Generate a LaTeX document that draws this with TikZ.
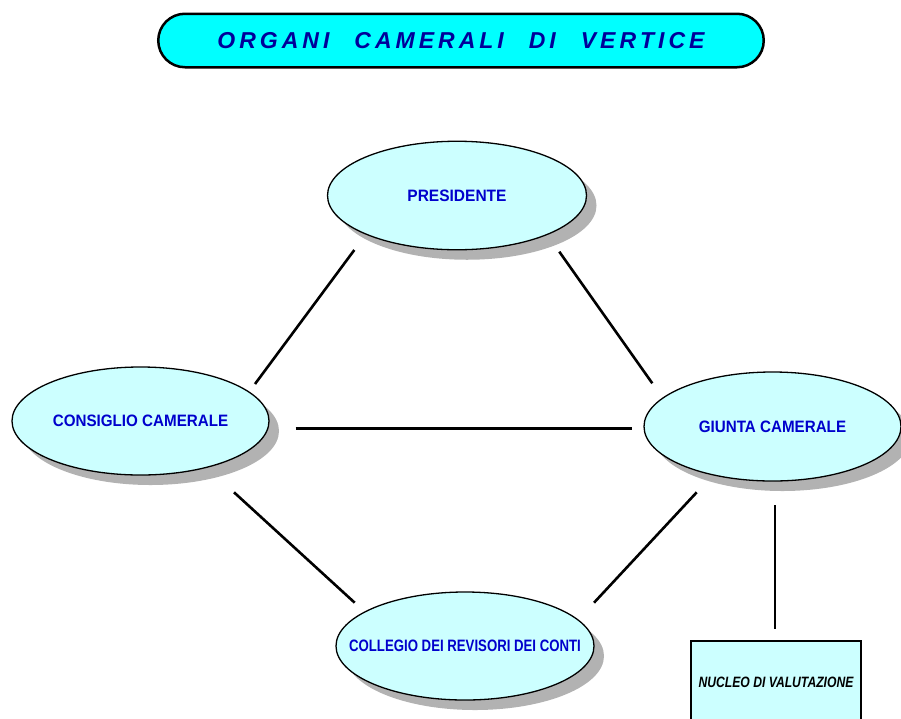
\documentclass[tikz,border=0pt]{standalone}
\usepackage{fontspec}
\usepackage{graphicx}
\usetikzlibrary{shapes.geometric,shadows,calc}
\newfontfamily\arialfont{Liberation Sans}
\definecolor{titlefill}{RGB}{0,255,255}
\definecolor{titletext}{RGB}{0,0,153}
\definecolor{ellfill}{RGB}{204,255,255}
\definecolor{elltext}{RGB}{0,0,204}
\definecolor{shadowgray}{RGB}{178,178,178}
\def\trk#1{\ifx#1\relax\else#1\kern4pt\expandafter\trk\fi}
\newcommand\sqz[2]{\makebox[0pt][c]{\scalebox{#1}[1]{#2}}}
\begin{document}
\begin{tikzpicture}[x=1pt,y=-1pt,
  organ/.style={ellipse, draw=black, line width=1.3pt, fill=ellfill, inner sep=0pt,
    drop shadow={shadow xshift=10pt, shadow yshift=-10pt, fill=shadowgray, opacity=1},
    font=\arialfont\bfseries\fontsize{16.5}{16.5}\selectfont, text=elltext},
  conn/.style={line width=2.6pt, draw=black},
  titlebox/.style={rectangle, rounded corners=26.75pt, draw=black, line width=2.5pt, fill=titlefill,
    minimum width=605.5pt, minimum height=53.5pt, inner sep=0pt,
    font=\arialfont\bfseries\itshape\fontsize{23}{23}\selectfont, text=titletext},
  nucbox/.style={rectangle, draw=black, line width=1.5pt, fill=ellfill, inner sep=0pt,
    minimum width=170pt, minimum height=82pt,
    font=\arialfont\bfseries\itshape\fontsize{15}{15}\selectfont, text=black}
]
\useasboundingbox (0,0) rectangle (901,718);
\node[titlebox] (title) at (461,40.5) {\trk ORGANI\relax\hspace{21pt}\trk CAMERALI\relax\hspace{21pt}\trk DI\relax\hspace{21pt}\trk VERTICE\relax\kern-4pt};
\node[organ, minimum width=259pt, minimum height=108.5pt] (pres) at (457,195.5) {\sqz{0.94}{PRESIDENTE}};
\node[organ, minimum width=257pt, minimum height=108pt] (cons) at (140.5,421) {\sqz{0.92}{CONSIGLIO CAMERALE}};
\node[organ, minimum width=257pt, minimum height=109pt] (giunta) at (772.5,426.5) {\sqz{0.92}{GIUNTA CAMERALE}};
\node[organ, minimum width=258pt, minimum height=108pt] (coll) at (465,646) {\sqz{0.80}{COLLEGIO DEI REVISORI DEI CONTI}};
\node[nucbox] (nucleo) at (776,682) {\sqz{0.81}{NUCLEO DI VALUTAZIONE}};
\draw[conn] ($(pres.center)+(-102.7,54.5)$) -- ($(cons.center)+(114.5,-37)$);
\draw[conn] ($(pres.center)+(102.3,56.2)$) -- ($(giunta.center)+(-120.2,-43.2)$);
\draw[conn] ($(cons.center)+(155.2,7.3)$) -- ($(giunta.center)+(-140.8,1.8)$);
\draw[conn] ($(cons.center)+(93.5,71.3)$) -- ($(coll.center)+(-110.3,-43.3)$);
\draw[conn] ($(giunta.center)+(-75.8,65.8)$) -- ($(coll.center)+(129,-43.3)$);
\draw[conn] ($(giunta.center)+(2.5,78.5)$) -- ($(nucleo.north)+(-1,-11)$);
\end{tikzpicture}
\end{document}
